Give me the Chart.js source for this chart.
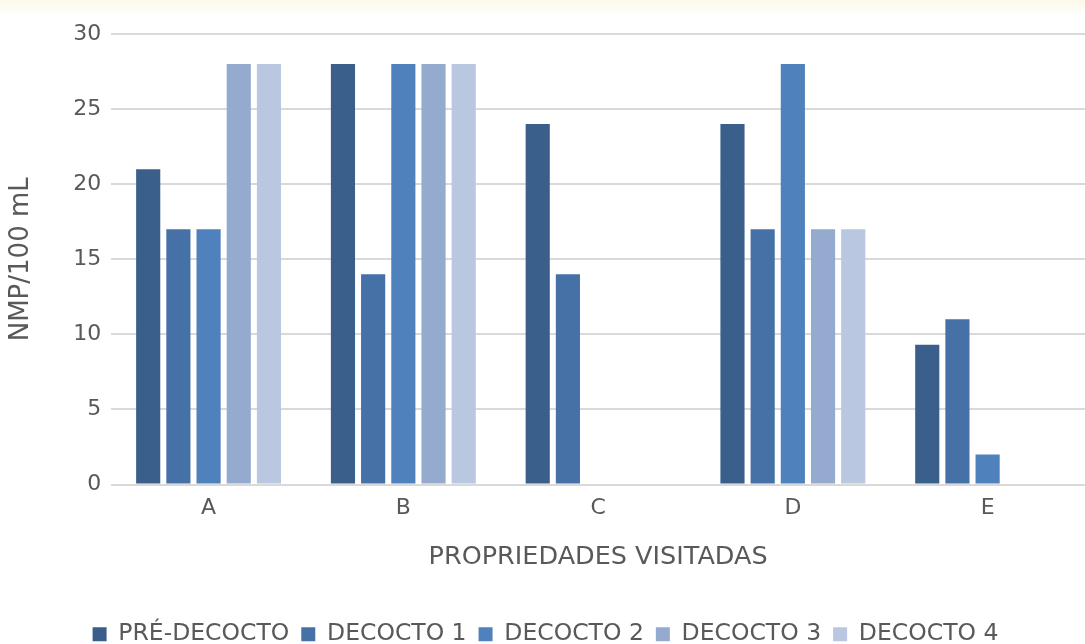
<!DOCTYPE html>
<html>
<head>
<meta charset="utf-8">
<script src="https://cdn.jsdelivr.net/npm/chart.js@4/dist/chart.umd.min.js"></script>
<style>
  html, body { margin: 0; padding: 0; background: #ffffff; overflow: hidden; }
  body { background: linear-gradient(to bottom, #fcf8ea 0px, #ffffff 16px); }
  #wrap { width: 1085px; height: 644px; position: relative; }
  canvas { display: block; }
</style>
</head>
<body>
<div id="wrap"><canvas id="chart" width="1085" height="644"></canvas></div>
<script>
const categories = ['A', 'B', 'C', 'D', 'E'];
const preDecocto = [21, 28, 24, 24, 9.3];
const decocto1 = [17, 14, 14, 17, 11];
const decocto2 = [17, 28, 0, 28, 2];
const decocto3 = [28, 28, 0, 17, 0];
const decocto4 = [28, 28, 0, 17, 0];
const seriesNames = ['PRÉ-DECOCTO', 'DECOCTO 1', 'DECOCTO 2', 'DECOCTO 3', 'DECOCTO 4'];
const yTicks = [0, 5, 10, 15, 20, 25, 30];

const colors = ['#3a5f8b', '#4571a6', '#4f81bd', '#95aacf', '#b9c7e0'];
const values = [preDecocto, decocto1, decocto2, decocto3, decocto4];

Chart.defaults.font.family = 'DejaVu Sans';
Chart.defaults.color = '#595959';

new Chart(document.getElementById('chart'), {
  type: 'bar',
  data: {
    labels: categories,
    datasets: seriesNames.map((name, i) => ({
      label: name,
      data: values[i],
      backgroundColor: colors[i],
      borderWidth: 0,
      categoryPercentage: 0.775,
      barPercentage: 0.8
    }))
  },
  options: {
    responsive: false,
    animation: false,
    devicePixelRatio: 1,
    layout: { padding: { top: 34, right: 0, left: 6, bottom: -12 } },
    plugins: {
      tooltip: { enabled: false },
      legend: {
        position: 'bottom',
        labels: {
          boxWidth: 14,
          boxHeight: 14,
          padding: 12,
          font: { size: 23.5 },
          color: '#595959'
        }
      }
    },
    scales: {
      x: {
        grid: { display: false },
        border: { display: false },
        ticks: { font: { size: 22 }, color: '#595959', padding: 3 },
        title: {
          display: true,
          text: 'PROPRIEDADES VISITADAS',
          font: { size: 25.5 },
          color: '#595959',
          padding: { top: 17, bottom: 38 }
        }
      },
      y: {
        min: 0,
        max: 30,
        afterBuildTicks: axis => { axis.ticks = yTicks.map(v => ({ value: v })); },
        grid: { color: '#d9d9d9', lineWidth: 2, drawTicks: false },
        border: { display: false },
        ticks: { font: { size: 22 }, color: '#595959', padding: 10 },
        title: {
          display: true,
          text: 'NMP/100 mL',
          font: { size: 26 },
          color: '#595959',
          padding: { top: 0, bottom: 26 }
        }
      }
    }
  }
});
</script>
</body>
</html>
